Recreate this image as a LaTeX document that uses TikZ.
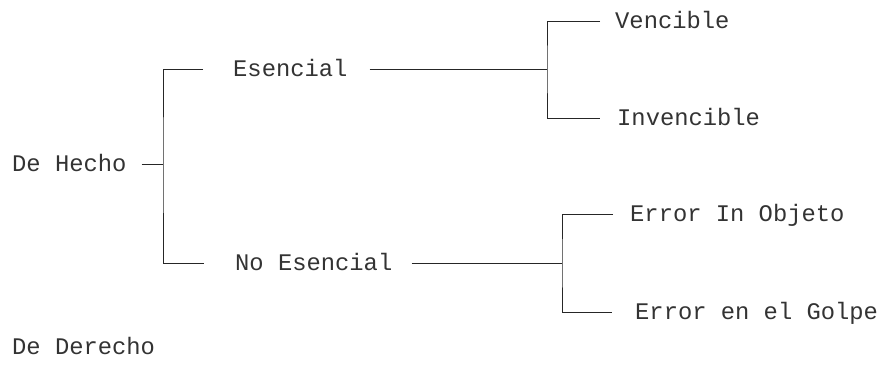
\documentclass[tikz,border=0pt]{standalone}
\usepackage{fontspec}
\setmonofont{Liberation Mono}
\begin{document}
\begin{tikzpicture}[x=1pt,y=-1pt,
  lbl/.style={anchor=west,inner sep=0pt,text height=15.5pt,text depth=0pt,
    font=\ttfamily\fontsize{23.8}{28}\selectfont,text=black!80},
  wire/.style={draw=black!85,line width=1pt}]
\useasboundingbox (0,0) rectangle (896,367);

% labels
\node[lbl] (dh) at (12,164) {De Hecho};
\node[lbl] (es) at (233,69) {Esencial};
\node[lbl] (ne) at (235,263) {No Esencial};
\node[lbl] (ve) at (615,21) {Vencible};
\node[lbl] (in) at (617,118) {Invencible};
\node[lbl] (eo) at (630,214) {Error In Objeto};
\node[lbl] (eg) at (635,312) {Error en el Golpe};
\node[lbl] (dd) at (12,347) {De Derecho};

% bracket spines
\coordinate (k1) at (163,164);
\coordinate (k2) at (547,69);
\coordinate (k3) at (562,263);

% first level
\draw[wire] ([xshift=15pt]dh.east) -- (k1);
\draw[wire] ([xshift=-30pt]es.west) -| (k1) |- ([xshift=-31pt]ne.west);

% Esencial branch
\draw[wire] ([xshift=22pt]es.east) -- (k2);
\draw[wire] ([xshift=-15pt]ve.west) -| (k2) |- ([xshift=-17pt]in.west);

% No Esencial branch
\draw[wire] ([xshift=19pt]ne.east) -- (k3);
\draw[wire] ([xshift=-17pt]eo.west) -| (k3) |- ([xshift=-23pt]eg.west);
\end{tikzpicture}
\end{document}
